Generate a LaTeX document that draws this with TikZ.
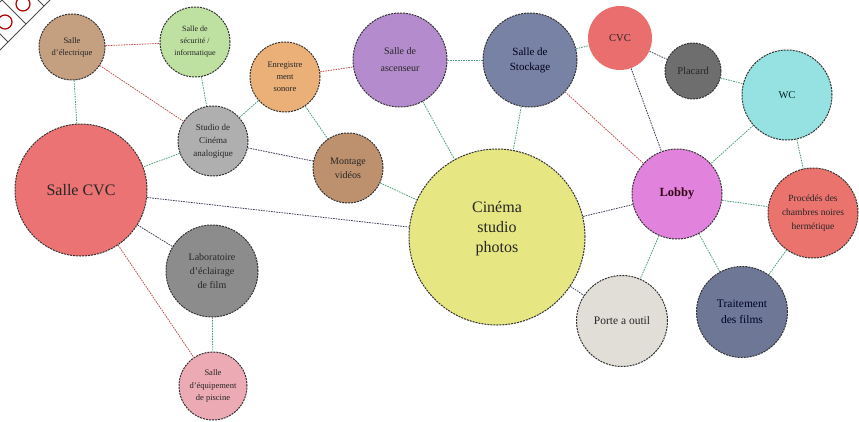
\documentclass[tikz,border=0pt]{standalone}
\usepackage{fontspec}
\setmainfont{Liberation Serif}
\usetikzlibrary{backgrounds}
\definecolor{cElec}{HTML}{C4A080}
\definecolor{cSecu}{HTML}{BEE0A0}
\definecolor{cEnreg}{HTML}{EBAF78}
\definecolor{cAsc}{HTML}{B48CCD}
\definecolor{cStock}{HTML}{7882A5}
\definecolor{cCVC}{HTML}{EB6E6E}
\definecolor{cPlac}{HTML}{6E6E6E}
\definecolor{cWC}{HTML}{96E1E1}
\definecolor{cStudio}{HTML}{AFAFAF}
\definecolor{cMont}{HTML}{BE916E}
\definecolor{cSCVC}{HTML}{EB7373}
\definecolor{cCine}{HTML}{E6E682}
\definecolor{cLobby}{HTML}{E182DC}
\definecolor{cProc}{HTML}{EB736E}
\definecolor{cTrait}{HTML}{6E7896}
\definecolor{cPorte}{HTML}{E1DED7}
\definecolor{cLabo}{HTML}{8C8C8C}
\definecolor{cPisc}{HTML}{EBAAB4}
\definecolor{lgreen}{HTML}{4FA07A}
\definecolor{lred}{HTML}{C0504D}
\definecolor{ldark}{HTML}{3A3F55}
\tikzset{
  room/.style={circle, draw=black!80, line width=1pt, dash pattern=on 2pt off 1pt,
    inner sep=0pt, align=center, text=black!85, font=\fontsize{7}{8.5}\selectfont},
  gl/.style={draw=lgreen, line width=0.8pt, dash pattern=on 1.6pt off 1pt},
  rl/.style={draw=lred, line width=0.8pt, dash pattern=on 1.6pt off 1pt},
  dl/.style={draw=ldark, line width=0.8pt, dash pattern=on 1.6pt off 1pt},
}
\begin{document}
\begin{tikzpicture}[x=1pt,y=-1pt]
\useasboundingbox (0,0) rectangle (859,421);
% corner decoration
\begin{scope}
\clip (0,0) rectangle (60,60);
\draw[black!70, line width=1pt] (-5,55) -- (55,-5);
\draw[black!70, line width=1pt] (-5,7) -- (7,-5);
\foreach \p in {(26,24),(8,42),(44,6)} {\draw[black!70, line width=1pt] \p -- ++(-30,-30);}
\draw[red!70!black, line width=1.2pt] (23,4) circle (7);
\draw[red!70!black, line width=1.2pt] (5,22) circle (7);
\end{scope}
% nodes
\node[room, fill=cElec, minimum size=66pt, font=\fontsize{8.5}{12}\selectfont] (elec) at (72,47) {Salle\\d'électrique};
\node[room, fill=cSecu, minimum size=70pt, font=\fontsize{8}{12}\selectfont] (secu) at (195,42) {Salle de\\sécurité /\\informatique};
\node[room, fill=cEnreg, minimum size=70pt, font=\fontsize{8.5}{12}\selectfont] (enreg) at (285,77) {Enregistre\\ment\\sonore};
\node[room, fill=cAsc, minimum size=94pt, font=\fontsize{10}{17}\selectfont] (asc) at (400,60) {Salle de\\ascenseur};
\node[room, fill=cStock, minimum size=94pt, font=\fontsize{11}{15}\selectfont, text=black!90!blue] (stock) at (530,60) {Salle de\\Stockage};
\node[room, fill=cCVC, draw=none, minimum size=64pt, font=\fontsize{10.5}{12}\selectfont] (cvc) at (620,38) {CVC};
\node[room, fill=cPlac, minimum size=56pt, font=\fontsize{10.5}{12}\selectfont] (plac) at (693,71) {Placard};
\node[room, fill=cWC, minimum size=90pt, font=\fontsize{10.5}{12}\selectfont, text=black!70!teal] (wc) at (787,95) {WC};
\node[room, fill=cStudio, minimum size=70pt, font=\fontsize{9}{13}\selectfont] (studio) at (213,141) {Studio de\\Cinéma\\analogique};
\node[room, fill=cMont, minimum size=70pt, font=\fontsize{10}{14}\selectfont] (mont) at (348,168) {Montage\\vidéos};
\node[room, fill=cSCVC, minimum size=132pt, font=\fontsize{16}{18}\selectfont] (scvc) at (81,190) {Salle CVC};
\node[room, fill=cCine, minimum size=176pt, font=\fontsize{16}{20}\selectfont] (cine) at (497,237) {Cinéma\\studio\\photos\\\mbox{}};
\node[room, fill=cLobby, minimum size=90pt, font=\bfseries\fontsize{12.5}{14}\selectfont, text=black!75!purple] (lobby) at (677,194) {Lobby};
\node[room, fill=cProc, minimum size=90pt, font=\fontsize{9.5}{14}\selectfont] (proc) at (813,213) {Procédés des\\chambres noires\\hermétique};
\node[room, fill=cTrait, minimum size=91pt, font=\fontsize{11.5}{16}\selectfont, text=black!85!blue] (trait) at (742,312) {Traitement\\des films};
\node[room, fill=cPorte, minimum size=91pt, font=\fontsize{11.5}{13}\selectfont] (porte) at (622,321) {Porte a outil};
\node[room, fill=cLabo, minimum size=92pt, font=\fontsize{10}{14}\selectfont] (labo) at (212,271) {Laboratoire\\d'éclairage\\de film};
\node[room, fill=cPisc, minimum size=68pt, font=\fontsize{8.5}{12.5}\selectfont] (pisc) at (213,386) {Salle\\d'équipement\\de piscine};
% connectors
\begin{scope}[on background layer]
\draw[rl] (elec) -- (secu);
\draw[rl] (elec) -- (studio);
\draw[gl] (elec) -- (scvc);
\draw[gl] (secu) -- (studio);
\draw[gl] (studio) -- (enreg);
\draw[gl] (studio) -- (scvc);
\draw[dl] (studio) -- (mont);
\draw[gl] (enreg) -- (mont);
\draw[rl] (enreg) -- (asc);
\draw[gl] (asc) -- (stock);
\draw[gl] (asc) -- (cine);
\draw[gl] (stock) -- (cine);
\draw[gl] (stock) -- (cvc);
\draw[rl] (stock) -- (lobby);
\draw[dl] (cvc) -- (plac);
\draw[dl] (cvc) -- (lobby);
\draw[gl] (plac) -- (wc);
\draw[gl] (wc) -- (lobby);
\draw[gl] (wc) -- (proc);
\draw[gl] (lobby) -- (proc);
\draw[gl] (lobby) -- (trait);
\draw[gl] (lobby) -- (porte);
\draw[dl] (lobby) -- (cine);
\draw[gl] (proc) -- (trait);
\draw[dl] (cine) -- (porte);
\draw[gl] (mont) -- (cine);
\draw[dl] (scvc) -- (cine);
\draw[dl] (scvc) -- (labo);
\draw[rl] (scvc) -- (pisc);
\draw[gl] (labo) -- (pisc);
\end{scope}
\end{tikzpicture}
\end{document}
